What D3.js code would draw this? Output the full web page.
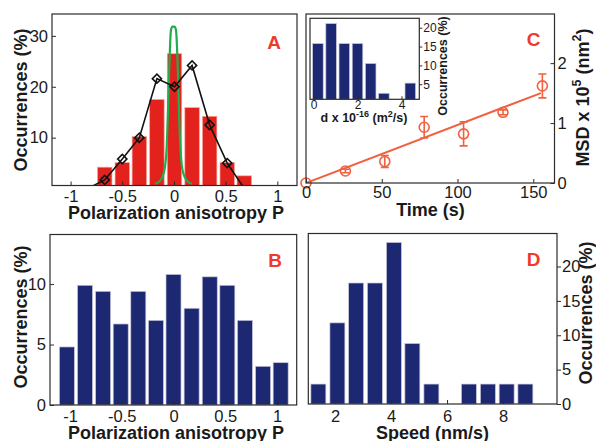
<!DOCTYPE html>
<html><head><meta charset="utf-8">
<script src="https://cdn.jsdelivr.net/npm/d3@7"></script>
<style>
html,body{margin:0;padding:0;background:#fff;}
svg text{font-family:"Liberation Sans",Arial,Helvetica,sans-serif;fill:#1a1a1a;}
</style></head><body>
<svg id="c" width="596" height="441"></svg>
<script>
// ---------- DATA ----------
// Panel A
const aBarX = [-0.67, -0.5, -0.335, -0.165, 0.005, 0.175, 0.345, 0.515, 0.68];
const aBarY = [4.2, 5.1, 10.2, 17.5, 26.5, 15.9, 14.2, 5.1, 2.5];
const aLineX = [-0.835, -0.67, -0.5, -0.335, -0.165, 0.005, 0.175, 0.345, 0.515, 0.68];
const aLineY = [0, 1.7, 5.8, 10.0, 21.6, 20.0, 24.2, 12.5, 5.0, 0];
const aMarkIdx = [1, 2, 3, 4, 5, 6, 7, 8];
const aFitX = [-0.184, -0.135, -0.097, -0.072, -0.058, -0.043, -0.029, -0.014, 0.005, 0.019, 0.034, 0.048, 0.063, 0.087, 0.126, 0.174];
const aFitY = [0.9, 1.5, 3.2, 7.6, 15.4, 25.3, 31.2, 31.8, 31.8, 31.2, 25.3, 15.4, 7.6, 3.2, 1.5, 0.9];
const aXTicks = [-1, -0.5, 0, 0.5, 1];
const aXTickLabels = ["-1", "-0.5", "0", "0.5", "1"];
const aYTicks = [10, 20, 30];
// Panel B
const bBarX = [-1.03, -0.855, -0.68, -0.51, -0.34, -0.17, 0, 0.175, 0.35, 0.52, 0.69, 0.865, 1.035];
const bBarY = [4.8, 9.9, 9.4, 6.7, 9.4, 7.0, 10.8, 8.0, 10.6, 9.9, 7.0, 3.2, 3.5];
const bXTicks = [-1, -0.5, 0, 0.5, 1];
const bXTickLabels = ["-1", "-0.5", "0", "0.5", "1"];
const bYTicks = [0, 5, 10];
// Panel C
const cTime = [0, 26, 52, 78, 104, 130, 156];
const cMSD = [0, 0.2, 0.36, 0.93, 0.82, 1.18, 1.62];
const cErr = [0, 0.03, 0.1, 0.18, 0.2, 0.04, 0.2];
const cFitT = [0, 155];
const cFitMSD = [0, 1.5];
const cXTicks = [0, 50, 100, 150];
const cYTicks = [0, 1, 2];
// Inset of C
const iBarX = [0.2, 0.8, 1.4, 2.0, 2.6, 3.2, 3.8, 4.4];
const iBarY = [15.8, 21.1, 15.8, 15.8, 10.5, 2.6, 0, 5.3];
const iXTicks = [0, 2, 4];
const iYTicks = [5, 10, 15, 20];
// Panel D
const dBarX = [1.4, 2.08, 2.75, 3.42, 4.1, 4.76, 5.44, 6.11, 6.78, 7.46, 8.13, 8.8];
const dBarY = [2.9, 11.8, 17.6, 17.6, 23.5, 8.8, 2.9, 0, 2.9, 2.9, 2.9, 2.9];
const dXTicks = [2, 4, 6, 8];
const dYTicks = [0, 5, 10, 15, 20];

// ---------- DRAW ----------
const svg = d3.select("#c");
const RED = "#ee3a2c", NAVY = "#1c2872", FRAME = "#2b2b2b";
const TICKFONT = 16.5, TITLEFONT = 18;

function frame(x, y) {
  const [x0, x1] = x.range(), [yb, yt] = y.range();
  svg.append("rect").attr("x", x0).attr("y", yt).attr("width", x1 - x0).attr("height", yb - yt)
    .attr("fill", "none").attr("stroke", FRAME).attr("stroke-width", 1.2);
}
function clip(id, x, y) {
  const [x0, x1] = x.range(), [yb, yt] = y.range();
  svg.append("clipPath").attr("id", id).append("rect")
    .attr("x", x0).attr("y", yt).attr("width", x1 - x0).attr("height", yb - yt);
  return "url(#" + id + ")";
}
function styleAxis(g, fs) {
  g.select(".domain").remove();
  g.selectAll(".tick line").attr("stroke", FRAME).attr("stroke-width", 1);
  g.selectAll(".tick text").attr("font-size", fs).attr("fill", "#1a1a1a")
    .style("font-family", '"Liberation Sans",Arial,sans-serif');
}
function bars(x, y, xs, ys, w, fill, stroke, cp) {
  const base = y.domain()[0];
  svg.append("g").attr("clip-path", cp).selectAll("rect").data(xs).join("rect")
    .attr("x", d => x(d - w / 2)).attr("width", d => x(d + w / 2) - x(d - w / 2))
    .attr("y", (d, i) => y(Math.max(ys[i], base)))
    .attr("height", (d, i) => y(base) - y(Math.max(ys[i], base)))
    .attr("fill", fill).attr("stroke", stroke).attr("stroke-width", 0.7);
}
function title(txt, x, y, rot, fs) {
  const t = svg.append("text").attr("font-size", fs || TITLEFONT).attr("font-weight", "bold")
    .attr("text-anchor", "middle")
    .attr("transform", `translate(${x},${y})` + (rot ? " rotate(-90)" : ""));
  return t;
}
function letter(txt, x, y) {
  svg.append("text").attr("x", x).attr("y", y).attr("text-anchor", "middle")
    .attr("font-size", 19).attr("font-weight", "bold").style("fill", RED).text(txt);
}

// Panel A
const xA = d3.scaleLinear([-1.18, 1.19], [52, 297]);
const yA = d3.scaleLinear([0.6, 34.3], [185.5, 14]);
const cpA = clip("cpA", xA, yA);
bars(xA, yA, aBarX, aBarY, 0.14, "#e3211d", "#f3a89c", cpA);
svg.append("path").attr("clip-path", cpA)
  .attr("d", d3.line().x(d => xA(d)).y((d, i) => yA(aFitY[i])).curve(d3.curveMonotoneX)(aFitX))
  .attr("fill", "none").attr("stroke", "#1fae4b").attr("stroke-width", 2.2);
svg.append("path").attr("clip-path", cpA)
  .attr("d", d3.line().x(d => xA(d)).y((d, i) => yA(aLineY[i]))(aLineX))
  .attr("fill", "none").attr("stroke", "#111").attr("stroke-width", 1.6);
svg.append("g").selectAll("path").data(aMarkIdx).join("path")
  .attr("transform", i => `translate(${xA(aLineX[i])},${yA(aLineY[i])}) rotate(45)`)
  .attr("d", d3.symbol(d3.symbolSquare, 42)())
  .attr("fill", "none").attr("stroke", "#111").attr("stroke-width", 1.6);
frame(xA, yA);
svg.append("g").attr("transform", "translate(0,185.5)")
  .call(d3.axisBottom(xA).tickValues(aXTicks).tickFormat((d, i) => aXTickLabels[i]).tickSizeInner(-4).tickSizeOuter(0).tickPadding(5))
  .call(g => styleAxis(g, TICKFONT));
svg.append("g").attr("transform", "translate(52,0)")
  .call(d3.axisLeft(yA).tickValues(aYTicks).tickFormat(d3.format("d")).tickSizeInner(-4).tickSizeOuter(0).tickPadding(4))
  .call(g => styleAxis(g, TICKFONT));
title("", 176, 219).text("Polarization anisotropy P");
title("", 26.5, 100, true).text("Occurrences (%)");
letter("A", 274, 48.5);

// Panel B
const xB = d3.scaleLinear([-1.193, 1.19], [50, 296.7]);
const yB = d3.scaleLinear([0, 14.1], [405, 234.5]);
const cpB = clip("cpB", xB, yB);
bars(xB, yB, bBarX, bBarY, 0.145, NAVY, "#c9c6d8", cpB);
frame(xB, yB);
svg.append("g").attr("transform", "translate(0,405)")
  .call(d3.axisBottom(xB).tickValues(bXTicks).tickFormat((d, i) => bXTickLabels[i]).tickSizeInner(-4).tickSizeOuter(0).tickPadding(5))
  .call(g => styleAxis(g, TICKFONT));
svg.append("g").attr("transform", "translate(50,0)")
  .call(d3.axisLeft(yB).tickValues(bYTicks).tickFormat(d3.format("d")).tickSizeInner(-4).tickSizeOuter(0).tickPadding(4))
  .call(g => styleAxis(g, TICKFONT));
title("", 176, 438.5).text("Polarization anisotropy P");
title("", 26.5, 317, true).text("Occurrences (%)");
letter("B", 275, 266.5);

// Panel C
const xC = d3.scaleLinear([0, 164], [306, 554.5]);
const yC = d3.scaleLinear([0, 2.82], [183, 14]);
const cpC = clip("cpC", xC, yC);
const ORANGE = "#f1603f";
svg.append("path").attr("clip-path", cpC)
  .attr("d", d3.line().x(d => xC(d)).y((d, i) => yC(cFitMSD[i]))(cFitT))
  .attr("stroke", ORANGE).attr("stroke-width", 2).attr("fill", "none");
const eg = svg.append("g").attr("clip-path", cpC);
cTime.forEach((t, i) => {
  if (cErr[i] > 0) {
    const x = xC(t), y0 = yC(cMSD[i] - cErr[i]), y1 = yC(cMSD[i] + cErr[i]);
    eg.append("line").attr("x1", x).attr("x2", x).attr("y1", y0).attr("y2", y1).attr("stroke", ORANGE).attr("stroke-width", 1.6);
    [y0, y1].forEach(yy => eg.append("line").attr("x1", x - 4).attr("x2", x + 4).attr("y1", yy).attr("y2", yy).attr("stroke", ORANGE).attr("stroke-width", 1.6));
  }
});
svg.append("g").selectAll("circle").data(cTime).join("circle")
  .attr("cx", d => xC(d)).attr("cy", (d, i) => yC(cMSD[i])).attr("r", 5)
  .attr("fill", "none").attr("stroke", ORANGE).attr("stroke-width", 1.6);
frame(xC, yC);
svg.append("g").attr("transform", "translate(0,183)")
  .call(d3.axisBottom(xC).tickValues(cXTicks).tickFormat(d3.format("d")).tickSizeInner(-4).tickSizeOuter(0).tickPadding(3))
  .call(g => styleAxis(g, TICKFONT));
svg.append("g").attr("transform", "translate(554.5,0)")
  .call(d3.axisRight(yC).tickValues(cYTicks).tickFormat(d3.format("d")).tickSizeInner(-4).tickSizeOuter(0).tickPadding(3))
  .call(g => styleAxis(g, TICKFONT));
title("", 430.5, 216).text("Time (s)");
{
  const t = title("", 588.5, 97.5, true);
  t.append("tspan").text("MSD x 10");
  t.append("tspan").attr("font-size", 12.5).attr("dy", -8).text("5");
  t.append("tspan").attr("dy", 8).text(" (nm");
  t.append("tspan").attr("font-size", 12.5).attr("dy", -8).text("2");
  t.append("tspan").attr("dy", 8).text(")");
}
letter("C", 533.5, 45.5);

// Inset
const xI = d3.scaleLinear([-0.16, 4.81], [310, 419.3]);
const yI = d3.scaleLinear([1, 22.5], [99.3, 18.3]);
const cpI = clip("cpI", xI, yI);
bars(xI, yI, iBarX, iBarY, 0.48, NAVY, "#c9c6d8", cpI);
frame(xI, yI);
svg.append("g").attr("transform", "translate(0,99.3)")
  .call(d3.axisBottom(xI).tickValues(iXTicks).tickFormat(d3.format("d")).tickSizeInner(-3).tickSizeOuter(0).tickPadding(1.5))
  .call(g => styleAxis(g, 12));
svg.append("g").attr("transform", "translate(419.3,0)")
  .call(d3.axisRight(yI).tickValues(iYTicks).tickFormat(d3.format("d")).tickSizeInner(3).tickSizeOuter(0).tickPadding(1))
  .call(g => styleAxis(g, 12));
{
  const t = title("", 364, 122, false, 12.5);
  t.append("tspan").text("d x 10");
  t.append("tspan").attr("font-size", 9).attr("dy", -5).text("-16");
  t.append("tspan").attr("dy", 5).text(" (m");
  t.append("tspan").attr("font-size", 9).attr("dy", -5).text("2");
  t.append("tspan").attr("dy", 5).text("/s)");
}
title("", 447, 66, true, 12.5).text("Occurrences (%)");

// Panel D
const xD = d3.scaleLinear([1.04, 9.93], [308.3, 557]);
const yD = d3.scaleLinear([0, 24.8], [404, 233.5]);
const cpD = clip("cpD", xD, yD);
bars(xD, yD, dBarX, dBarY, 0.535, NAVY, "#c9c6d8", cpD);
frame(xD, yD);
svg.append("g").attr("transform", "translate(0,404)")
  .call(d3.axisBottom(xD).tickValues(dXTicks).tickFormat(d3.format("d")).tickSizeInner(-4).tickSizeOuter(0).tickPadding(6))
  .call(g => styleAxis(g, TICKFONT));
svg.append("g").attr("transform", "translate(557,0)")
  .call(d3.axisRight(yD).tickValues(dYTicks).tickFormat(d3.format("d")).tickSizeInner(4).tickSizeOuter(0).tickPadding(1))
  .call(g => styleAxis(g, TICKFONT));
title("", 432.5, 438.5).text("Speed (nm/s)");
title("", 591.5, 313, true).text("Occurrences (%)");
letter("D", 533.5, 265.5);
</script>
</body></html>
